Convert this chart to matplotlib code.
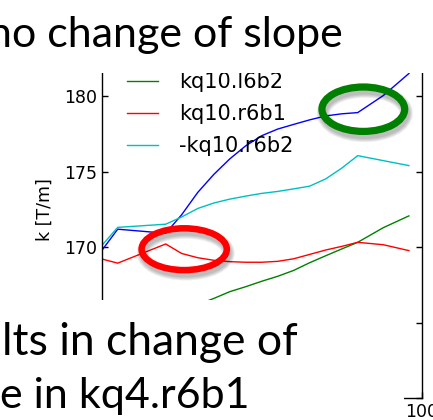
import matplotlib
matplotlib.use("Agg")
import matplotlib.pyplot as plt
from matplotlib.patches import Ellipse, Rectangle

W, H = 433, 420

# Field gradient along the scan (x in %, k in T/m)
x_blue = [0, 5, 20, 25, 30, 35, 40, 45, 50, 55, 60, 65, 70, 75, 80, 88, 96]
k_blue = [169.78, 171.20, 170.93, 172.16, 173.63, 174.82, 175.85, 176.72, 177.39,
          177.83, 178.14, 178.44, 178.70, 178.84, 178.92, 180.05, 181.51]

x_red = [0, 5, 20, 25, 30, 35, 40, 45, 50, 55, 60, 65, 70, 75, 80, 88, 96]
k_red = [169.23, 168.95, 170.22, 169.59, 169.31, 169.14, 169.05, 169.01, 169.01,
         169.07, 169.24, 169.53, 169.82, 170.06, 170.33, 170.17, 169.78]

x_cyan = [0, 5, 20, 25, 30, 35, 40, 45, 50, 55, 60, 65, 70, 75, 80, 96]
k_cyan = [170.11, 171.32, 171.53, 172.01, 172.57, 172.93, 173.19, 173.39, 173.57,
          173.70, 173.87, 174.05, 174.53, 175.24, 176.07, 175.41]

x_green = [30, 35, 40, 45, 50, 55, 60, 65, 70, 75, 80, 88, 96]
k_green = [166.20, 166.61, 167.06, 167.39, 167.75, 168.08, 168.47, 168.98, 169.44,
           169.89, 170.33, 171.30, 172.08]

labels = ["kq10.l6b2", "kq10.r6b1", "-kq10.r6b2"]
y_ticks = [160, 165, 170, 175, 180, 185]
y_tick_labels = ["", "", "170", "175", "180", ""]
x_ticks = [0, 20, 40, 60, 80, 100]
x_tick_labels = ["", "", "", "", "", "100"]

title_text = "no change of slope"
body_lines = ["lts in change of", "e in kq4.r6b1"]


def fx(px):
    return px / W


def fy(py):
    return 1 - py / H


fig = plt.figure(figsize=(W / 100, H / 100), dpi=100)
fig.patch.set_facecolor("white")

ax = fig.add_axes([fx(101.7), fy(398.3), 320 / W, (398.3 - 20.8) / H])
ax.plot(x_blue, k_blue, color="#0000ff", lw=1.0)
lg, = ax.plot(x_green, k_green, color="#008000", lw=1.0, label=labels[0])
lr, = ax.plot(x_red, k_red, color="#ff0000", lw=1.0, label=labels[1])
lc, = ax.plot(x_cyan, k_cyan, color="#00bfbf", lw=1.0, label=labels[2])

ax.set_xlim(0, 100)
ax.set_ylim(160, 185)
ax.set_yticks(y_ticks)
ax.set_yticklabels(y_tick_labels)
ax.set_xticks(x_ticks)
ax.set_xticklabels(x_tick_labels)
ax.tick_params(direction="in", length=4.5, width=1, top=True, right=True,
               labelsize=12.5, pad=3.5)
for s in ax.spines.values():
    s.set_linewidth(1.0)
ax.set_ylabel("k [T/m]", fontsize=12.5)
ax.yaxis.set_label_coords((53.5 - 101.7) / 320, 0.5)

ax.legend(handles=[lg, lr, lc], loc="upper left",
          bbox_to_anchor=(fx(127), fy(72)), bbox_transform=fig.transFigure,
          frameon=False, borderpad=0, borderaxespad=0, fontsize=15,
          handlelength=1.5, handletextpad=1.0, labelspacing=0.58)

# slide text boxes on top of the plot
fig.add_artist(Rectangle((0, fy(72.5)), 1, 72.5 / H, transform=fig.transFigure,
                         facecolor="white", edgecolor="none", zorder=10))
fig.add_artist(Rectangle((0, 0), fx(404), (H - 300) / H, transform=fig.transFigure,
                         facecolor="white", edgecolor="none", zorder=10))

fig.text(fx(343), fy(47), title_text, ha="right", va="baseline",
         fontsize=31, family="Lato", color="black", zorder=11)
fig.text(fx(2), fy(355), body_lines[0], ha="left", va="baseline",
         fontsize=32, family="Lato", color="black", zorder=11)
fig.text(fx(0), fy(408), body_lines[1], ha="left", va="baseline",
         fontsize=31, family="Lato", color="black", zorder=11)


def ring(cx, cy, w, h, lw, color):
    # soft drop shadow
    for extra in [0.0, 1.5, 3.0, 4.5]:
        fig.add_artist(Ellipse((fx(cx + 1.5), fy(cy + 4)), w / W, h / H,
                               transform=fig.transFigure, fill=False,
                               edgecolor="black", lw=lw + extra, alpha=0.07,
                               zorder=11.5))
    fig.add_artist(Ellipse((fx(cx), fy(cy)), w / W, h / H,
                           transform=fig.transFigure, fill=False,
                           edgecolor=color, lw=lw, zorder=12))


ring(184.2, 249.2, 85.2, 41.8, 4.7, "#ff0000")
ring(363.3, 109.2, 82.7, 44.4, 5.2, "#008000")

fig.savefig("out.png", dpi=100, facecolor="white")
